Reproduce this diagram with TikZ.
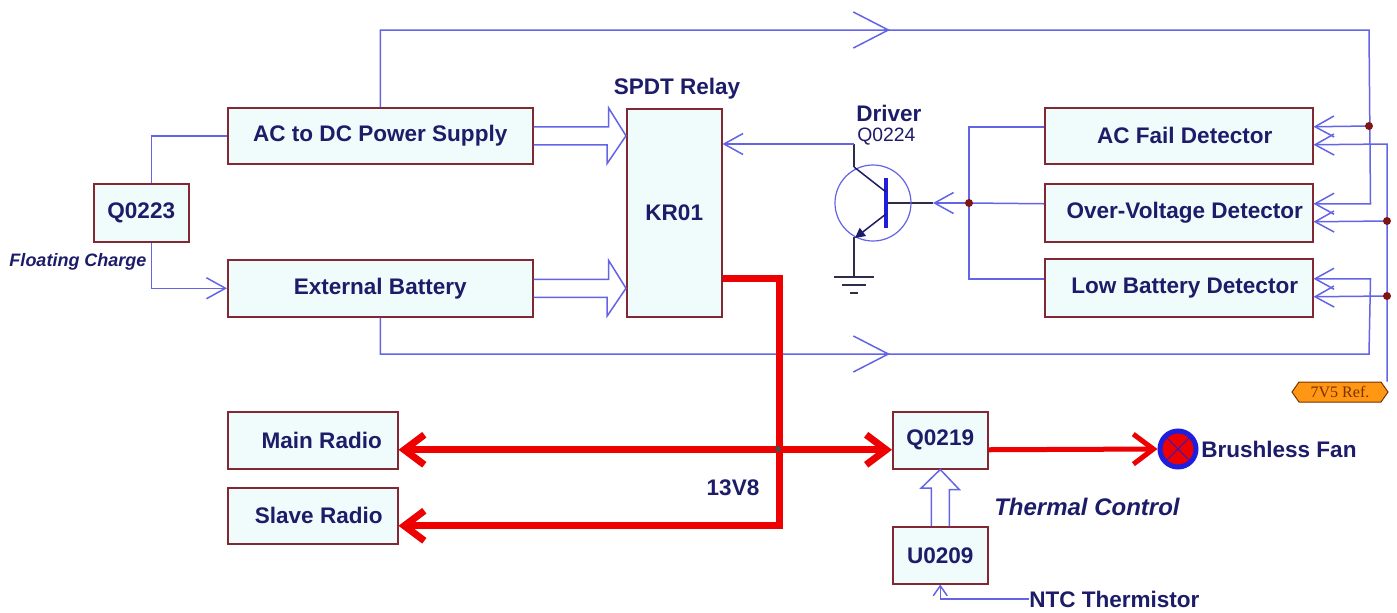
\documentclass[tikz,border=0pt]{standalone}
\usepackage{fontspec}
\setmainfont{Liberation Sans}
\newfontfamily\serifref{Liberation Serif}
\usetikzlibrary{arrows.meta,calc,shapes.symbols}
\newlength\pxu \setlength\pxu{0.75pt}
\definecolor{boxred}{RGB}{130,40,50}
\definecolor{boxfill}{RGB}{240,252,252}
\definecolor{wireblue}{RGB}{100,100,230}
\definecolor{navy}{RGB}{28,28,105}
\definecolor{pwred}{RGB}{238,0,0}
\definecolor{dotc}{RGB}{130,20,20}
\definecolor{darkw}{RGB}{45,45,70}
\definecolor{tblue}{RGB}{30,30,220}
\definecolor{refor}{RGB}{255,150,20}
\definecolor{refbr}{RGB}{120,50,0}
\newcommand\mainf{\fontsize{16.9pt}{19pt}\selectfont\bfseries}
\newcommand\smallf{\fontsize{14.5pt}{16pt}\selectfont}
\newcommand\flf{\fontsize{13.5pt}{15pt}\selectfont\bfseries\itshape}
\newcommand\thf{\fontsize{18pt}{20pt}\selectfont\bfseries\itshape}
\begin{document}
\begin{tikzpicture}[x=0.75pt,y=-0.75pt,
 blk/.style={draw=boxred, fill=boxfill, line width=1.5\pxu, inner sep=0pt, anchor=north west, font=\mainf, text=navy},
 lbl/.style={font=\mainf, text=navy, inner sep=0pt},
 wire/.style={draw=wireblue, line width=1.125pt},
 barb/.style={-{Straight Barb[length=14.25pt,width=15.75pt]}},
 bigbarb/.style={-{Straight Barb[length=26.25pt,width=27pt]}},
 smallbarb/.style={-{Straight Barb[length=7.5pt,width=10.5pt]}},
 pw/.style={draw=pwred, line width=5.25pt},
 pwthin/.style={draw=pwred, line width=3.75pt},
 rtip/.style={-{Straight Barb[length=15pt,width=22.5pt]}},
 rtips/.style={{Straight Barb[length=15pt,width=22.5pt]}-{Straight Barb[length=15pt,width=22.5pt]}},
 jdot/.style={circle, fill=dotc, inner sep=0pt, minimum size=6pt},
 dark/.style={draw=darkw, line width=1.125pt},
]
\useasboundingbox[fill=white] (0,0) rectangle (1397,612);

% blocks
\node[blk, minimum width=305\pxu, minimum height=56\pxu] (acdc) at (227,107) {AC to DC Power Supply};
\node[blk, minimum width=305\pxu, minimum height=57\pxu] (ext) at (227,259) {External Battery};
\node[blk, minimum width=95\pxu, minimum height=58\pxu] (q23) at (93,183) {Q0223};
\node[blk, minimum width=95\pxu, minimum height=208\pxu] (kr) at (626,108) {KR01};
\node[blk, minimum width=268\pxu, minimum height=56\pxu] (acf) at (1044,107) {\hspace{12\pxu}AC Fail Detector};
\node[blk, minimum width=268\pxu, minimum height=58\pxu] (ov) at (1044,183) {\hspace{12\pxu}Over-Voltage Detector};
\node[blk, minimum width=268\pxu, minimum height=58\pxu] (lb) at (1044,258) {\hspace{12\pxu}Low Battery Detector};
\node[blk, minimum width=170\pxu, minimum height=57\pxu] (main) at (227,411) {\hspace{18\pxu}Main Radio};
\node[blk, minimum width=170\pxu, minimum height=56\pxu] (slave) at (227,487) {\hspace{12\pxu}Slave Radio};
\node[blk, minimum width=95\pxu, minimum height=57\pxu] (q19) at (892,411) {Q0219};
\node[blk, minimum width=95\pxu, minimum height=57\pxu] (u09) at (892,526) {U0209};

% labels
\node[lbl] (spdt) at (677,89) {SPDT Relay};
\node[lbl, anchor=base west] (drv) at (856,121) {Driver};
\node[font=\smallf, text=navy, inner sep=0pt, anchor=base west] (q24) at (857,141) {Q0224};
\node[font=\flf, text=navy, inner sep=0pt] (flc) at (78,262) {Floating Charge};
\node[lbl] (v138) at (733,488) {13V8};
\node[font=\thf, text=navy, inner sep=0pt, anchor=west] (thc) at (994,507) {Thermal Control};
\node[lbl, anchor=west] (ntc) at (1029,599) {NTC Thermistor};
\node[signal, signal to=west and east, signal pointer angle=110, draw=refbr, fill=refor,
      line width=0.75pt, minimum width=72pt, minimum height=15pt, inner sep=1pt,
      font=\serifref\fontsize{12pt}{13pt}\selectfont, text=refbr] (ref) at (1340,392) {7V5 Ref.};

% fan
\node[circle, draw=tblue, line width=3.75pt, fill=pwred, minimum size=27pt, inner sep=0pt] (fan) at (1178,449) {};
\draw[tblue, line width=0.75pt] ($(fan.center)+(-12,-12)$) -- ($(fan.center)+(12,12)$);
\draw[tblue, line width=0.75pt] ($(fan.center)+(-12,12)$) -- ($(fan.center)+(12,-12)$);
\node[lbl, anchor=west] (fant) at (1201,449) {Brushless Fan};

% coordinates
\coordinate (tr) at (1369,30);
\coordinate (jt) at (1369,126);
\coordinate (br) at (1369,354);
\coordinate (chevt) at (890,30);
\coordinate (chevb) at (890,354);
\coordinate (rt) at (1387,144);
\coordinate (j2) at (1387,221);
\coordinate (j3) at (1387,296);
\coordinate (bj) at (969,203);
\coordinate (btip) at (933,203);
\coordinate (tq) at (873,203);
\coordinate (cq) at (854,144);
\coordinate (rm) at (778,449);

% Q0223 links
\draw[wire] ($(q23.north)+(10,0)$) |- (acdc.west);
\draw[wire, barb] ($(q23.south)+(10,0)$) |- (ext.west);

% hollow arrows into relay
\draw[wire] ($(acdc.east)+(0,-9)$) -- ++(75,0) -- ++(0,-19) -- (kr.west |- acdc.east) -- ++(-19,28) -- ++(0,-19) -- ($(acdc.east)+(0,9)$);
\draw[wire] ($(ext.east)+(0,-9)$) -- ++(75,0) -- ++(0,-19) -- (kr.west |- ext.east) -- ++(-19,28) -- ++(0,-19) -- ($(ext.east)+(0,9)$);

% top loop
\draw[wire, barb] (acdc.north) |- (tr) -- ($(ov.east)+(57,-9)$) -- ($(ov.east)+(0,-9)$);
\draw[wire, barb] (jt) -- ($(acf.east)+(0,-9)$);
\draw[wire, bigbarb] ($(chevt)+(-6,0)$) -- (chevt);
% bottom loop
\draw[wire, barb] (ext.south) |- (br) -- ($(lb.east)+(57,-9)$) -- ($(lb.east)+(0,-9)$);
\draw[wire, bigbarb] ($(chevb)+(-6,0)$) -- (chevb);
% reference
\draw[wire, barb] (ref.north -| rt) -- (rt) -- ($(acf.east)+(0,9)$);
\draw[wire, barb] (j2) -- ($(ov.east)+(0,9)$);
\draw[wire, barb] (j3) -- ($(lb.east)+(0,9)$);

% left detector bus
\draw[wire] ($(acf.west)+(0,-9)$) -- ++(-75,0) -- ($(lb.west)+(-75,-9)$) -- ($(lb.west)+(0,-9)$);
\draw[wire] ($(ov.west)+(0,-9)$) -- (bj);
\draw[wire, barb] (bj) -- (btip);
\draw[dark] (btip) -- (886,203);

% transistor
\draw[wireblue, line width=0.9pt] (tq) circle (28.5pt);
\draw[tblue, line width=3pt] (886,178) -- (886,228);
\draw[navy, line width=1.125pt] (886,192) -- (854,167);
\draw[dark] (854,167) -- (cq);
\draw[navy, line width=1.125pt, -{Triangle[length=7.5pt,width=7.5pt]}] (886,214) -- (855,238);
\draw[dark] (854,237) -- (854,277);
\draw[dark] (834,277) -- (874,277);
\draw[dark] (842,285) -- (866,285);
\draw[dark] (850,293) -- (858,293);
\draw[wire, barb] (cq) -- (kr.east |- cq);

% red power lines
\draw[pw, rtip] ($(kr.east)+(0,66)$) -- ++(57,0) |- ($(slave.east)+(0,10)$);
\draw[pw, rtips] ($(main.east)+(0,9.5)$) -- ($(q19.west)+(0,9.5)$);
\draw[pwthin, rtip] ($(q19.east)+(0,9.5)$) -- (fan.west);
\fill[black!70] (rm) circle (2.25pt);

% thermal
\draw[wire] ($(u09.north)+(-9,0)$) -- ++(0,-38) -- ++(-10,0) -- (q19.south) -- ++(19,20) -- ++(-10,0) -- ($(u09.north)+(9,0)$);
\draw[wire, smallbarb] (ntc.west) -| (u09.south);

% junction dots
\node[jdot] at (jt) {};
\node[jdot] at (j2) {};
\node[jdot] at (j3) {};
\node[jdot] at (bj) {};
\end{tikzpicture}
\end{document}
